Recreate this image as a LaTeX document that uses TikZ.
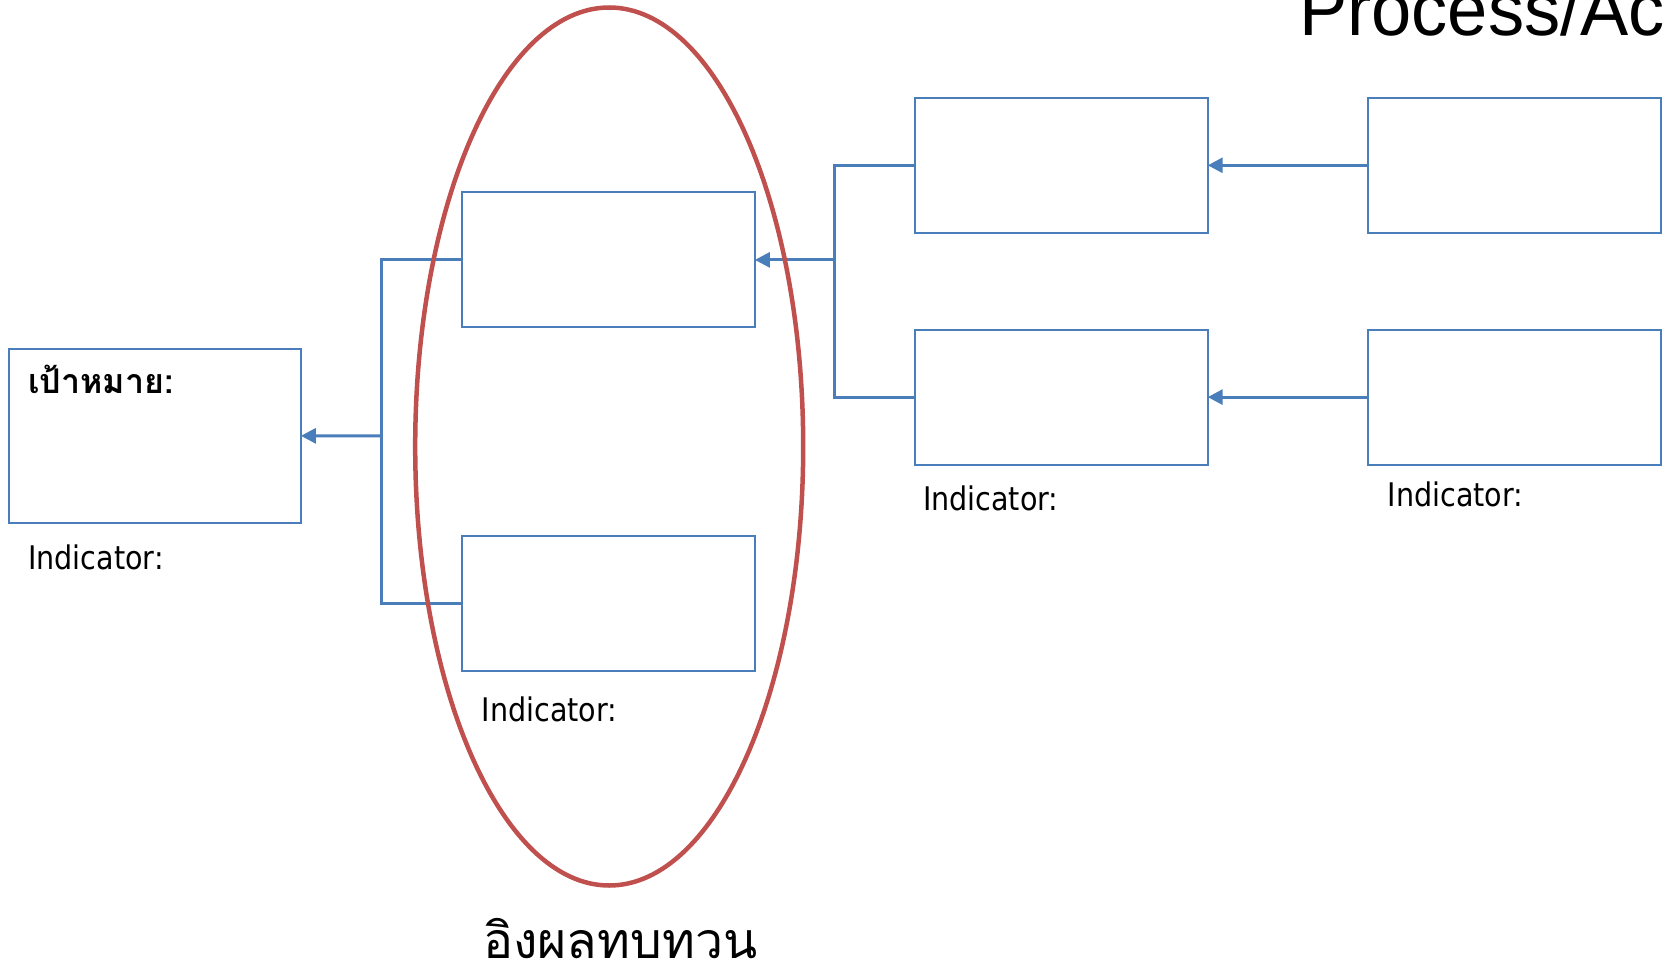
\documentclass[tikz,border=0pt]{standalone}
\usepackage{fontspec}
\setmainfont{DejaVu Sans}
\newfontfamily\tah[FakeStretch=0.88]{DejaVu Sans}
\newfontfamily\thai[Script=Thai]{Loma}
\newfontfamily\arial[FakeStretch=0.964]{Liberation Sans}
\usetikzlibrary{arrows.meta}
\definecolor{bl}{HTML}{4A7EBB}
\definecolor{rd}{HTML}{C0504D}
\begin{document}
\begin{tikzpicture}[x=1pt,y=-1pt,
  box/.style={draw=bl,line width=2pt,inner sep=0,outer sep=0,anchor=north west,minimum width=292.4pt,minimum height=135pt},
  conn/.style={draw=bl,line width=3pt},
  arr/.style={conn,-{Triangle[length=15pt,width=15pt]}},
  ind/.style={inner sep=0,anchor=west,font=\tah\fontsize{32.5}{38}\selectfont}]
\useasboundingbox (0,0) rectangle (1667,968);
\clip (0,0) rectangle (1667,968);
\node[inner sep=0,anchor=base west,font=\arial\fontsize{75}{82}\selectfont] (title) at (1299,36) {Process/Ac};
\node[box,minimum height=174.3pt] (G) at (8.5,348.7) {};
\node[box,minimum width=293.4pt] (M1) at (461.5,192.4) {};
\node[box,minimum width=293.4pt] (M2) at (461.5,535.8) {};
\node[box] (R1) at (915.3,97.8) {};
\node[box] (R2) at (915.3,329.6) {};
\node[box] (F1) at (1368.2,97.8) {};
\node[box] (F2) at (1368.2,329.6) {};
\node[inner sep=0,anchor=base west,font=\thai\bfseries\fontsize{34}{40}\selectfont] (goal) at (28,393) {เป้าหมาย:};
\node[ind] (iG) at (28,557) {Indicator:};
\node[ind] (iM) at (481.6,709) {Indicator:};
\node[ind] (iR) at (922.8,498.6) {Indicator:};
\node[ind] (iF) at (1387.4,494.4) {Indicator:};
\node[inner sep=0,anchor=base west,font=\thai\fontsize{50}{56}\selectfont] (rev) at (483,958) {อิงผลทบทวน};
\coordinate (jr) at (834.5,259.9);
\coordinate (jl) at (381.7,435.85);
\draw[arr] (F1.west) -- (R1.east);
\draw[arr] (F2.west) -- (R2.east);
\draw[conn] (R1.west) -| (jr) |- (R2.west);
\draw[arr] (jr) -- (M1.east);
\draw[conn] (M1.west) -| (jl) |- (M2.west);
\draw[arr] (jl) -- (G.east);
\draw[rd,line width=4.5pt] (609.2,446.5) ellipse [x radius=194, y radius=439];
\end{tikzpicture}
\end{document}
